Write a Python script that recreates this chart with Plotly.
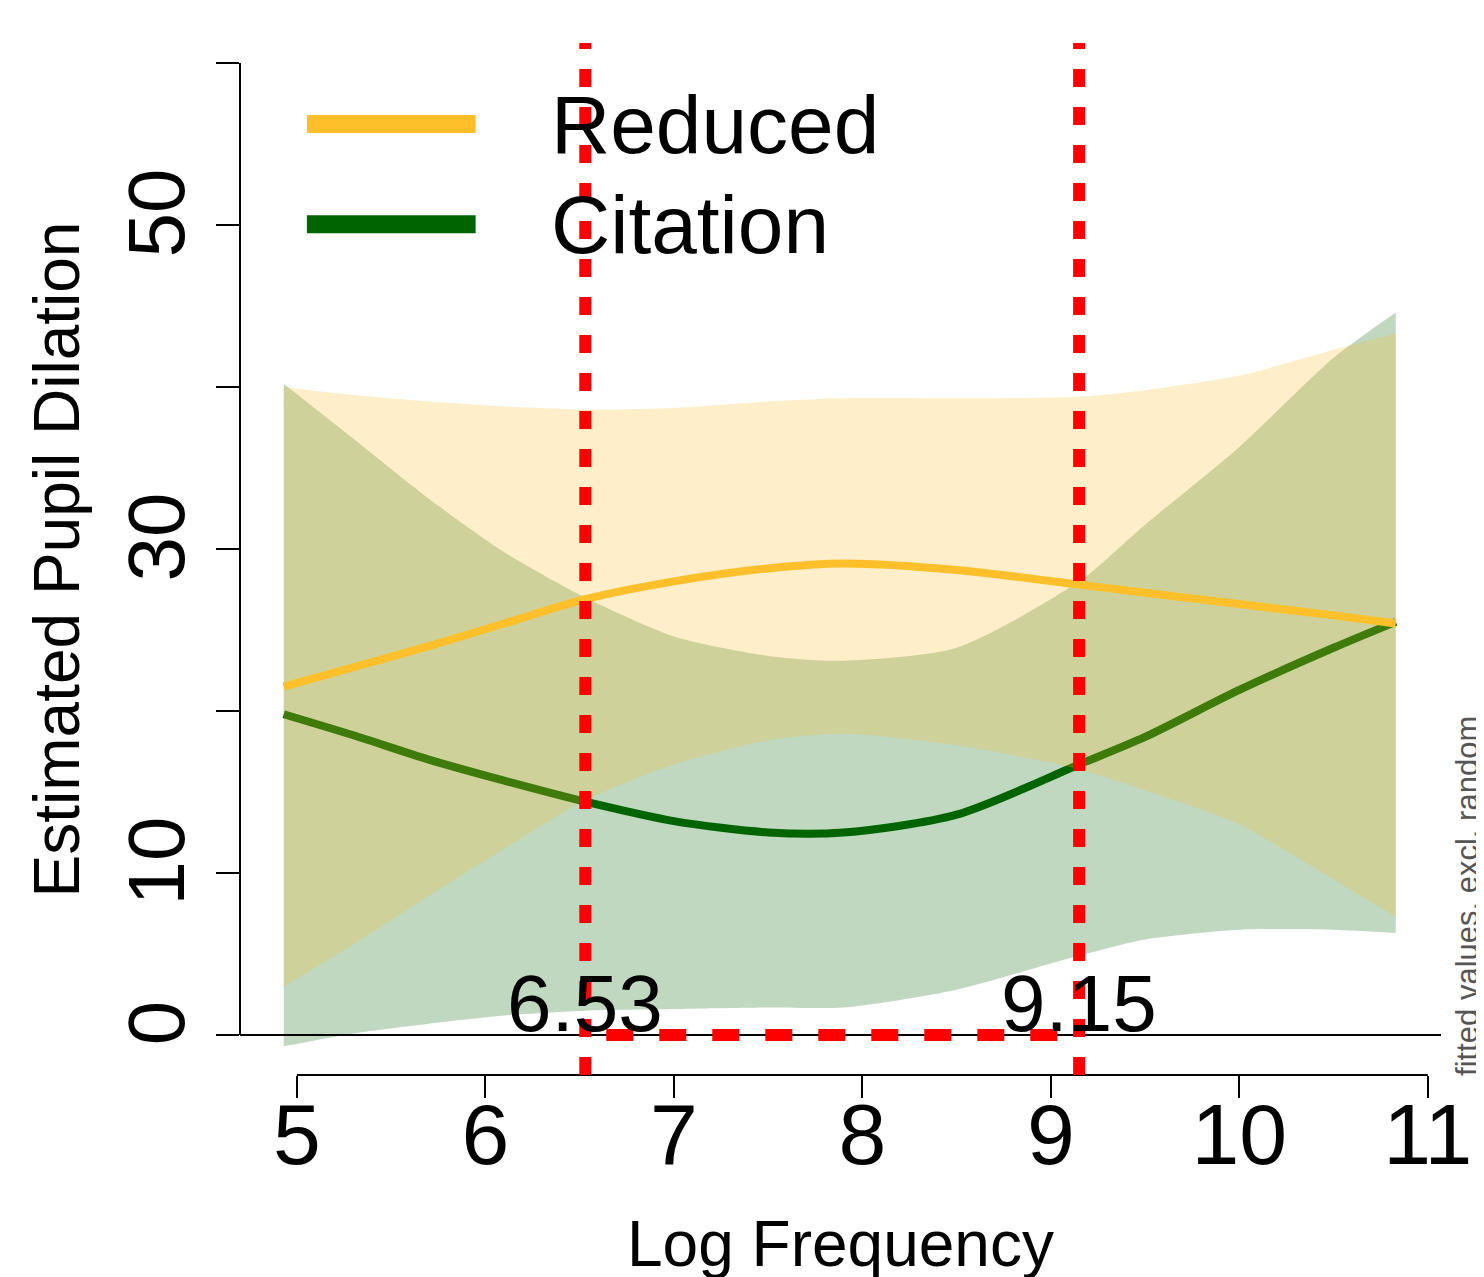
import plotly.graph_objects as go

# ---- data ----
log_freq = [4.93, 5.3, 5.7, 6.1, 6.53, 7.0, 7.5, 7.9, 8.5, 9.15, 9.5, 10.0, 10.5, 10.83]
reduced_fit = [21.5, 22.7, 24.0, 25.4, 26.9, 28.0, 28.8, 29.1, 28.7, 27.8, 27.3, 26.6, 25.9, 25.4]
reduced_upper = [40.0, 39.5, 39.1, 38.8, 38.6, 38.7, 39.1, 39.3, 39.3, 39.4, 39.8, 40.7, 42.3, 43.3]
reduced_lower = [3.0, 5.6, 8.6, 11.5, 14.5, 16.7, 18.2, 18.6, 17.9, 16.4, 15.1, 13.0, 9.6, 7.3]
citation_fit = [19.8, 18.5, 17.0, 15.7, 14.4, 13.2, 12.5, 12.5, 13.6, 16.7, 18.4, 21.3, 23.9, 25.5]
citation_upper = [40.2, 36.8, 33.1, 29.8, 27.0, 24.6, 23.4, 23.1, 23.9, 28.0, 31.5, 36.3, 41.8, 44.6]
citation_lower = [-0.7, 0.1, 0.7, 1.2, 1.5, 1.6, 1.7, 1.7, 2.8, 4.9, 5.9, 6.5, 6.5, 6.3]

sig_start = 6.53
sig_end = 9.15

x_ticks = [5, 6, 7, 8, 9, 10, 11]
y_ticks = [0, 10, 20, 30, 40, 50, 60]
y_ticktext = ["0", "10", "", "30", "", "50", ""]

series_names = ["Reduced", "Citation"]

# ---- styles ----
FONT = "Liberation Sans, Arial, sans-serif"
YELLOW = "#FDC02A"
GREEN = "#006400"
YELLOW_FILL = "rgba(253,192,42,0.25)"
GREEN_FILL = "rgba(0,100,0,0.25)"

fig = go.Figure()


def add_band(x, lo, hi, color):
    fig.add_trace(go.Scatter(x=x, y=lo, mode="lines",
                             line=dict(width=0, shape="spline", smoothing=0.7),
                             hoverinfo="skip", showlegend=False))
    fig.add_trace(go.Scatter(x=x, y=hi, mode="lines", fill="tonexty", fillcolor=color,
                             line=dict(width=0, shape="spline", smoothing=0.7),
                             hoverinfo="skip", showlegend=False))


add_band(log_freq, citation_lower, citation_upper, GREEN_FILL)
fig.add_trace(go.Scatter(x=log_freq, y=citation_fit, mode="lines",
                         line=dict(color=GREEN, width=8, shape="spline", smoothing=0.8),
                         name="Citation", showlegend=False))
add_band(log_freq, reduced_lower, reduced_upper, YELLOW_FILL)
fig.add_trace(go.Scatter(x=log_freq, y=reduced_fit, mode="lines",
                         line=dict(color=YELLOW, width=8, shape="spline", smoothing=0.8),
                         name="Reduced", showlegend=False))

shapes = []
# zero line (abline h=0)
shapes.append(dict(type="line", xref="paper", yref="y", x0=0, x1=1, y0=0, y1=0,
                   line=dict(color="black", width=2)))
# axis lines (R style: from first to last tick)
shapes.append(dict(type="line", xref="paper", yref="y", x0=0, x1=0,
                   y0=y_ticks[0], y1=y_ticks[-1], line=dict(color="black", width=2)))
shapes.append(dict(type="line", xref="x", yref="paper", x0=x_ticks[0], x1=x_ticks[-1],
                   y0=0, y1=0, line=dict(color="black", width=2)))
# significance region markers
for xv in (sig_start, sig_end):
    shapes.append(dict(type="line", xref="x", yref="paper", x0=xv, x1=xv, y0=0, y1=1,
                       line=dict(color="red", width=12, dash="18px,20px")))
shapes.append(dict(type="line", xref="x", yref="y", x0=sig_start, x1=sig_end, y0=0, y1=0,
                   line=dict(color="red", width=12, dash="0px,21px,27px,5px")))
# legend lines
legend_y = [0.9214, 0.8243]
legend_cols = [YELLOW, GREEN]
for ly, lc in zip(legend_y, legend_cols):
    shapes.append(dict(type="line", xref="paper", yref="paper", x0=0.0557, x1=0.1962,
                       y0=ly, y1=ly, line=dict(color=lc, width=18)))

annotations = []
for ly, name in zip(legend_y, series_names):
    annotations.append(dict(x=0.2569, y=ly, xref="paper", yref="paper", text=name,
                            showarrow=False, xanchor="left", yanchor="middle",
                            font=dict(family=FONT, size=82, color="black")))
for xv in (sig_start, sig_end):
    annotations.append(dict(x=xv, y=0, xref="x", yref="y", text=f"{xv:.2f}",
                            showarrow=False, xanchor="center", yanchor="middle", yshift=32,
                            font=dict(family=FONT, size=80, color="black")))
annotations.append(dict(x=0.5, y=-0.164, xref="paper", yref="paper", text="Log Frequency",
                        showarrow=False, xanchor="center", yanchor="middle",
                        font=dict(family=FONT, size=64, color="black")))
annotations.append(dict(x=-0.152, y=0.5, xref="paper", yref="paper",
                        text="Estimated Pupil Dilation", textangle=-90,
                        showarrow=False, xanchor="center", yanchor="middle",
                        font=dict(family=FONT, size=64, color="black")))
annotations.append(dict(x=1.0215, y=-0.003, xref="paper", yref="paper",
                        text="fitted values, excl. random", textangle=-90,
                        showarrow=False, xanchor="center", yanchor="bottom",
                        font=dict(family=FONT, size=31, color="#555555")))

fig.update_layout(
    width=1476, height=1269,
    margin=dict(l=232, r=41, t=35, b=202, pad=0),
    paper_bgcolor="white", plot_bgcolor="white",
    showlegend=False,
    shapes=shapes, annotations=annotations,
    xaxis=dict(range=[4.698, 11.070], tickvals=x_ticks, ticktext=[str(v) for v in x_ticks],
               ticks="outside", ticklen=22, tickwidth=2, tickcolor="black",
               ticklabelstandoff=-37,
               showgrid=False, zeroline=False, showline=False,
               tickfont=dict(family=FONT, size=86, color="black")),
    yaxis=dict(range=[-2.469, 61.23], tickvals=y_ticks, ticktext=y_ticktext,
               ticks="outside", ticklen=23, tickwidth=2, tickcolor="black",
               tickangle=-90,
               showgrid=False, zeroline=False, showline=False,
               tickfont=dict(family=FONT, size=80, color="black")),
)

fig.write_html("out.html")
